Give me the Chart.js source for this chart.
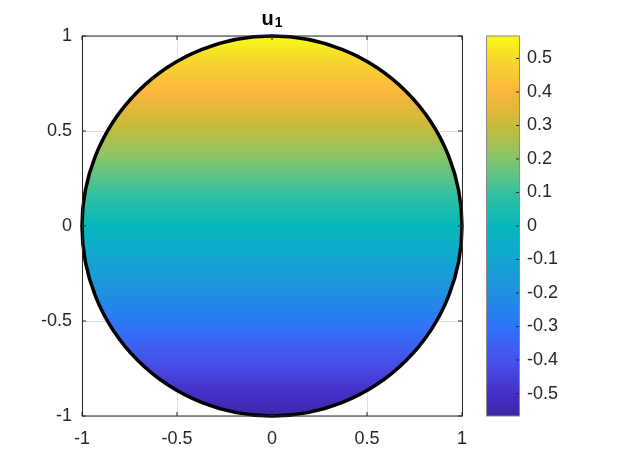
<!DOCTYPE html>
<html lang="en">
<head>
<meta charset="UTF-8">
<title>u1</title>
<style type="text/css">
    body { margin: 0; background: #fff; }
    .wrap { position: relative; width: 625px; height: 469px; }
    .wrap canvas { position: absolute; left: 0; top: 0; }
</style>
</head>
<body>
<div class="wrap">
    <canvas id="plot" width="625" height="469"></canvas>
    <canvas id="cbar" width="625" height="469"></canvas>
</div>

<script src="https://cdn.jsdelivr.net/npm/chart.js"></script>
<script>
// axes ticks
const xTicks = [-1, -0.5, 0, 0.5, 1];
const yTicks = [-1, -0.5, 0, 0.5, 1];
// colorbar
const cbTicks = [-0.5, -0.4, -0.3, -0.2, -0.1, 0, 0.1, 0.2, 0.3, 0.4, 0.5];
const cbRange = [-0.567, 0.567];
// colours (parula)
const cmapValues = [-0.567, -0.5, -0.4, -0.3, -0.2, -0.1, 0, 0.1, 0.2, 0.3, 0.4, 0.5, 0.567];
const cmapColors = ['#3e26a8', '#4430c8', '#4752ea', '#2f74f8', '#1f90e0', '#12a6d0', '#05b8bc',
                    '#35c1a0', '#84c56a', '#c9bb38', '#fbb63e', '#f6d92c', '#f9fb15'];
// u1 along the vertical through the disk
const profileY = [-1, -0.5, 0, 0.5, 1];
const profileU = [-0.567, -0.284, 0, 0.284, 0.567];
// domain: unit disk
const diskCenter = [0, 0];
const diskRadius = 1;
const titleText = ['u', '1'];

const FONT = '"Liberation Sans", Arial, Helvetica, sans-serif';
const INK = '#262626';

// u -> y along the profile
function yForU(u){
    for(let i=0;i<profileU.length-1;i++){
        if(u>=profileU[i] && u<=profileU[i+1]){
            const t=(u-profileU[i])/(profileU[i+1]-profileU[i]);
            return profileY[i]+t*(profileY[i+1]-profileY[i]);
        }
    }
    return u<profileU[0] ? profileY[0] : profileY[profileY.length-1];
}

const fixTicks = arr => s => { s.ticks = arr.map(v => ({value: v})); };

const diskPlugin = {
    id: 'disk',
    beforeDatasetsDraw(chart){
        const ctx = chart.ctx, xs = chart.scales.x, ys = chart.scales.y;
        const cx = xs.getPixelForValue(diskCenter[0]);
        const cy = ys.getPixelForValue(diskCenter[1]);
        const rx = xs.getPixelForValue(diskCenter[0]+diskRadius) - cx;
        const ry = cy - ys.getPixelForValue(diskCenter[1]+diskRadius);
        const top = cy-ry, bot = cy+ry;
        const g = ctx.createLinearGradient(0, top, 0, bot);
        cmapValues.forEach((v,i)=>{
            const py = ys.getPixelForValue(yForU(v));
            g.addColorStop(Math.min(1, Math.max(0,(py-top)/(bot-top))), cmapColors[i]);
        });
        ctx.save();
        ctx.beginPath();
        ctx.ellipse(cx, cy, rx, ry, 0, 0, Math.PI*2);
        ctx.fillStyle = g;
        ctx.fill();
        ctx.lineWidth = 3.5;
        ctx.strokeStyle = '#000';
        ctx.stroke();
        ctx.restore();
    },
    afterDraw(chart){
        const ctx = chart.ctx, a = chart.chartArea, xs = chart.scales.x, ys = chart.scales.y;
        ctx.save();
        ctx.strokeStyle = INK;
        ctx.lineWidth = 1;
        // inward ticks
        ctx.beginPath();
        xTicks.forEach(v=>{
            const px = xs.getPixelForValue(v);
            ctx.moveTo(px, a.bottom); ctx.lineTo(px, a.bottom-4);
            ctx.moveTo(px, a.top); ctx.lineTo(px, a.top+4);
        });
        yTicks.forEach(v=>{
            const py = ys.getPixelForValue(v);
            ctx.moveTo(a.left, py); ctx.lineTo(a.left+4, py);
            ctx.moveTo(a.right, py); ctx.lineTo(a.right-4, py);
        });
        ctx.stroke();
        // box
        ctx.strokeRect(a.left+0.5, a.top, a.right-a.left, a.bottom-a.top);
        // title u_1
        const mid = (a.left+a.right)/2;
        ctx.fillStyle = '#000';
        ctx.textBaseline = 'alphabetic';
        ctx.font = 'bold 20px ' + FONT;
        const w1 = ctx.measureText(titleText[0]).width;
        ctx.font = 'bold 14px ' + FONT;
        const w2 = ctx.measureText(titleText[1]).width;
        const x0 = mid - (w1+w2+1)/2;
        ctx.font = 'bold 20px ' + FONT;
        ctx.fillText(titleText[0], x0, 25);
        ctx.font = 'bold 14px ' + FONT;
        ctx.fillText(titleText[1], x0+w1+1, 27);
        ctx.restore();
    }
};

const plot = new Chart(document.getElementById('plot'), {
    type: 'scatter',
    data: { datasets: [{ data: [], showLine: false }] },
    options: {
        responsive: false,
        animation: false,
        events: [],
        layout: { padding: { top: 36, right: 163, left: 0, bottom: 0 } },
        plugins: { legend: { display: false }, tooltip: { enabled: false }, title: { display: false } },
        scales: {
            x: {
                type: 'linear', min: -1, max: 1,
                afterBuildTicks: fixTicks(xTicks),
                afterFit: s => { s.height = 53; },
                grid: { color: '#dfdfdf', drawTicks: false, tickLength: 0 },
                border: { display: false },
                ticks: { color: INK, padding: 12, maxRotation: 0, font: { family: FONT, size: 18 },
                         callback: v => String(v) }
            },
            y: {
                type: 'linear', min: -1, max: 1,
                afterBuildTicks: fixTicks(yTicks),
                afterFit: s => { s.width = 82; },
                grid: { color: '#dfdfdf', drawTicks: false, tickLength: 0 },
                border: { display: false },
                ticks: { color: INK, padding: 10, font: { family: FONT, size: 18 },
                         callback: v => String(v) }
            }
        }
    },
    plugins: [diskPlugin]
});

const cbarPlugin = {
    id: 'cbarBox',
    afterDraw(chart){
        const ctx = chart.ctx, a = chart.chartArea, ys = chart.scales.y;
        ctx.save();
        ctx.strokeStyle = INK;
        ctx.lineWidth = 1;
        ctx.beginPath();
        cbTicks.forEach(v=>{
            const py = ys.getPixelForValue(v);
            ctx.moveTo(a.right, py); ctx.lineTo(a.right-3, py);
        });
        ctx.stroke();
        ctx.strokeStyle = '#8a8a8a';
        ctx.strokeRect(a.left+0.5, a.top, a.right-a.left, a.bottom-a.top);
        ctx.restore();
    }
};

const cbar = new Chart(document.getElementById('cbar'), {
    type: 'bar',
    data: {
        labels: [''],
        datasets: [{
            data: [cbRange],
            borderWidth: 0,
            barPercentage: 1,
            categoryPercentage: 1,
            backgroundColor: c => {
                const ch = c.chart, a = ch.chartArea;
                if(!a) return null;
                const s = ch.scales.y;
                const g = ch.ctx.createLinearGradient(0, a.bottom, 0, a.top);
                cmapValues.forEach((v,i)=>{
                    const t = (s.getPixelForValue(v)-a.bottom)/(a.top-a.bottom);
                    g.addColorStop(Math.min(1, Math.max(0,t)), cmapColors[i]);
                });
                return g;
            }
        }]
    },
    options: {
        responsive: false,
        animation: false,
        events: [],
        layout: { padding: { top: 36, right: 0, left: 486, bottom: 53 } },
        plugins: { legend: { display: false }, tooltip: { enabled: false } },
        scales: {
            x: { display: false },
            y: {
                position: 'right',
                min: cbRange[0], max: cbRange[1],
                afterBuildTicks: fixTicks(cbTicks),
                afterFit: s => { s.width = 106; },
                grid: { display: false, drawTicks: false, tickLength: 0 },
                border: { display: false },
                ticks: { color: INK, padding: 8, font: { family: FONT, size: 18 },
                         callback: v => String(v) }
            }
        }
    },
    plugins: [cbarPlugin]
});
</script>
</body>
</html>
